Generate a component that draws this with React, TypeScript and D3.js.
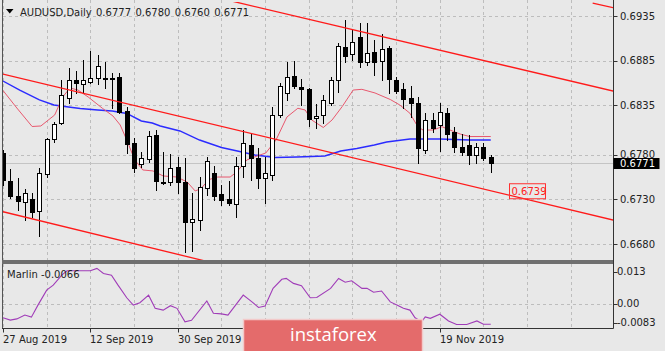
import React from 'react';
import * as d3 from 'd3';

// AUDUSD daily candles, bar 0 = 27 Aug 2019, bar 67 = 28 Nov 2019
const opens = [
  0.67818, 0.67508, 0.67337, 0.67273, 0.67303, 0.67172, 0.6758, 0.67974, 0.6815, 0.68433,
  0.68629, 0.68595, 0.68615, 0.68662, 0.68655, 0.68662, 0.68671, 0.68282, 0.67926, 0.67691,
  0.67751, 0.68019, 0.67496, 0.6749, 0.67665, 0.6749, 0.6705, 0.67063, 0.67426, 0.67591,
  0.67356, 0.67303, 0.67247, 0.67672, 0.67907, 0.67759, 0.67535, 0.67572, 0.68243, 0.68492,
  0.68679, 0.68559, 0.68534, 0.68206, 0.68248, 0.68377, 0.68638, 0.69007, 0.68925, 0.69119,
  0.68839, 0.68944, 0.6885, 0.68989, 0.68634, 0.6853, 0.6843, 0.68374, 0.67851, 0.68187,
  0.68131, 0.68262, 0.68056, 0.67882, 0.67907, 0.67795, 0.67888, 0.6777,
];
const highs = [
  0.67851, 0.67636, 0.67542, 0.67415, 0.67367, 0.67647, 0.67982, 0.68161, 0.68634, 0.68765,
  0.68735, 0.68858, 0.68959, 0.68919, 0.68836, 0.68709, 0.68709, 0.68329, 0.67982, 0.67832,
  0.68064, 0.68075, 0.67826, 0.67803, 0.67776, 0.67767, 0.67367, 0.67553, 0.67773, 0.67676,
  0.6746, 0.67505, 0.6777, 0.68075, 0.6803, 0.67879, 0.67776, 0.68336, 0.68601, 0.68836,
  0.68847, 0.6864, 0.68541, 0.68366, 0.68466, 0.68671, 0.69051, 0.69305, 0.69199, 0.69268,
  0.69277, 0.69082, 0.69145, 0.6901, 0.68671, 0.68597, 0.68567, 0.68441, 0.68262, 0.68262,
  0.68374, 0.68318, 0.68112, 0.6803, 0.68019, 0.67926, 0.67926, 0.678,
];
const lows = [
  0.6746, 0.67311, 0.6718, 0.67069, 0.67105, 0.66893, 0.67553, 0.67937, 0.68139, 0.6838,
  0.68492, 0.685, 0.68597, 0.6859, 0.68541, 0.68318, 0.68265, 0.67814, 0.67609, 0.67665,
  0.6772, 0.67404, 0.67468, 0.6746, 0.67367, 0.66716, 0.66722, 0.66957, 0.67348, 0.67292,
  0.67236, 0.67236, 0.67105, 0.67553, 0.67516, 0.67426, 0.67255, 0.67516, 0.6822, 0.68411,
  0.68541, 0.68355, 0.6812, 0.68097, 0.6815, 0.68355, 0.68503, 0.6883, 0.68858, 0.6878,
  0.68802, 0.6869, 0.68629, 0.68489, 0.68486, 0.68318, 0.68215, 0.67706, 0.67821, 0.68056,
  0.67844, 0.67963, 0.67832, 0.67795, 0.67695, 0.67703, 0.6774, 0.676,
];
const closes = [
  0.67516, 0.67337, 0.67284, 0.67367, 0.67161, 0.67591, 0.67971, 0.68139, 0.68466, 0.68634,
  0.68606, 0.68634, 0.6866, 0.68794, 0.68651, 0.68658, 0.6828, 0.67913, 0.67647, 0.67759,
  0.68011, 0.67505, 0.67485, 0.67647, 0.6749, 0.67041, 0.6708, 0.67432, 0.67723, 0.67342,
  0.67292, 0.67255, 0.67672, 0.67935, 0.67759, 0.67533, 0.67591, 0.68243, 0.68562, 0.68671,
  0.68567, 0.68534, 0.68198, 0.68237, 0.68405, 0.68638, 0.6902, 0.68908, 0.69056, 0.68832,
  0.68936, 0.68839, 0.68978, 0.6864, 0.68515, 0.68418, 0.6838, 0.6787, 0.68187, 0.68094,
  0.6828, 0.6803, 0.67882, 0.67832, 0.67795, 0.67882, 0.67759, 0.6771,
];

// moving averages: [bar, price]
const fastMa: [number, number][] = [
  [0, 0.68517], [1.9, 0.68321], [4, 0.68114], [5.2, 0.6812], [7.1, 0.68243], [8.2, 0.68444],
  [9.2, 0.68545], [10.3, 0.68522], [11.7, 0.68444], [13.7, 0.68315], [15.1, 0.68232],
  [16.1, 0.68131], [17, 0.67963], [18.1, 0.6774], [19.2, 0.67628], [20.6, 0.67617],
  [22, 0.67561], [23.9, 0.67549], [25.3, 0.67493], [26.4, 0.67393], [27.2, 0.67421],
  [28.3, 0.67521], [29.5, 0.67549], [31.2, 0.67549], [32.1, 0.67605], [33.5, 0.6774],
  [34.9, 0.67784], [36.1, 0.67818], [37.5, 0.67963], [39, 0.6822], [40.5, 0.68318],
  [41.5, 0.68299], [42.4, 0.68187], [44, 0.68103], [45.2, 0.68187], [46.6, 0.68338],
  [48.1, 0.68522], [49.3, 0.6853], [51.1, 0.68489], [53.2, 0.68416], [54.5, 0.68355],
  [55.9, 0.68262], [57, 0.68109], [57.7, 0.68075], [59.1, 0.68075], [60.3, 0.68112],
  [61.4, 0.68075], [62.8, 0.6803], [64.1, 0.68002], [67, 0.68002],
];
const slowMa: [number, number][] = [
  [0, 0.68623], [2.3, 0.68522], [5, 0.68411], [7, 0.68355], [9, 0.68332], [10.6, 0.68315],
  [13, 0.68299], [15, 0.68288], [17, 0.6826], [19, 0.68176], [20.5, 0.68153], [21.6, 0.6812],
  [24.3, 0.68064], [27, 0.67963], [30, 0.67879], [32.5, 0.67835], [34.6, 0.67795],
  [37.4, 0.67767], [40.4, 0.67773], [44.2, 0.67784], [46.4, 0.6784], [48.6, 0.67868],
  [51, 0.67907], [52.7, 0.67941], [55.9, 0.67974], [60, 0.67974], [64.1, 0.67963], [67, 0.67963],
];

// Marlin oscillator: [bar, value]
const marlin: [number, number][] = [
  [0, -0.0048], [1, -0.0056], [1.9, -0.0052], [3, -0.0039], [3.9, -0.0046], [4.8, -0.0005],
  [6, 0.0046], [6.9, 0.0063], [8.1, 0.0098], [8.8, 0.0112], [9.7, 0.0112], [12, 0.0112],
  [12.9, 0.012], [13.8, 0.0103], [14.9, 0.0097], [15.8, 0.0063], [17, 0.002], [17.9, -0.0005],
  [18.8, 0.0003], [20, 0.0029], [20.9, -0.0016], [22, -0.0022], [23, -0.0007], [23.9, -0.0016],
  [25, -0.0062], [25.9, -0.0057], [28, 0.0009], [28.9, -0.0033], [30, -0.0035], [30.9, -0.0039],
  [33, 0.0029], [34.2, 0.0006], [35.1, -0.0013], [36, -0.0008], [37.1, 0.0052], [38.3, 0.0083],
  [38.9, 0.0086], [39.9, 0.0069], [41, 0.0061], [42.2, 0.002], [43.1, 0.0021], [45, 0.0052],
  [46.1, 0.0086], [47, 0.0073], [47.9, 0.0078], [49.3, 0.0052], [50, 0.0052], [50.9, 0.0039],
  [52, 0.0043], [53.2, 0.0006], [54.1, -0.0005], [55, -0.0016], [55.9, -0.0022], [56.6, -0.0048],
  [57.5, -0.0062], [58, -0.0045], [58.7, -0.005], [60, -0.0036], [61.2, -0.0059], [62.3, -0.0071],
  [63.7, -0.0071], [65.1, -0.0059], [66, -0.007], [67, -0.007],
];
const marlinLast = -0.0066;

// hand-drawn channel lines: [bar1, price1, bar2, price2]
const channelLines: [number, number, number, number][] = [
  [30, 0.69544, 84, 0.68507],
  [0, 0.68701, 84, 0.67064],
  [81, 0.69495, 84, 0.6944],
  [0, 0.67161, 40, 0.66367],
];
const channelLabel = 0.6739;

const priceTicks = [0.6935, 0.6885, 0.6835, 0.678, 0.673, 0.668];
const priceTickLabels = ['0.6935', '0.6885', '0.6835', '0.6780', '0.6730', '0.6680'];
const marlinTicks = [0.013, 0, -0.0083];
const marlinTickLabels = ['0.013', '0.00', '-0.0083'];
// dates visible on the time axis (the others sit under the watermark)
const dateBars = [0, 12, 24, 60];
const dateLabels = ['27 Aug 2019', '12 Sep 2019', '30 Sep 2019', '19 Nov 2019'];

const W = 665;
const H = 351;
const AX = 613.5; // price axis
const MAIN_BOTTOM = 260;
const IND_TOP = 264;
const IND_BOTTOM = 328.5;
const BG = '#e8e8e8';
const GRID = '#bdbdbd';
const FONT = '"DejaVu Sans", sans-serif';

const x = d3.scaleLinear().domain([0, 84]).range([3, 3 + 84 * 7.28]);
const y = d3.scaleLinear().domain([0.668, 0.6935]).range([244, 16]);
const yInd = d3.scaleLinear().domain([-0.0083, 0.013]).range([328, 265.5]);

const priceLine = d3.line<[number, number]>().x(d => x(d[0])).y(d => y(d[1]));
const indLine = d3.line<[number, number]>().x(d => x(d[0])).y(d => yInd(d[1]));

const gridBars = d3.range(0, 85, 6).filter(i => x(i) < AX - 1);
const last = opens.length - 1;

export default function App() {
  const lastClose = closes[last];
  const header = [opens[last], highs[last], lows[last], closes[last]].map(v => v.toFixed(4));
  const labelY = y(channelLabel);

  return (
    <svg width={W} height={H} style={{ position: 'absolute', left: 0, top: 0, display: 'block' }}>
      <defs>
        <clipPath id="mainClip">
          <rect x={3} y={2} width={AX - 3} height={MAIN_BOTTOM - 2} />
        </clipPath>
        <clipPath id="indClip">
          <rect x={3} y={IND_TOP} width={AX - 3} height={IND_BOTTOM - IND_TOP} />
        </clipPath>
      </defs>
      <rect width={W} height={H} fill={BG} />

      {/* grid */}
      {gridBars.map(i => {
        const gx = Math.round(x(i)) + 0.5;
        return (
          <g key={'vg' + i} stroke={GRID} strokeDasharray="3,3">
            <line x1={gx} x2={gx} y1={0} y2={MAIN_BOTTOM} />
            <line x1={gx} x2={gx} y1={IND_TOP} y2={IND_BOTTOM} />
          </g>
        );
      })}
      {priceTicks.map(p => (
        <line key={'hg' + p} x1={3} x2={AX} y1={Math.round(y(p)) + 0.5} y2={Math.round(y(p)) + 0.5}
          stroke={GRID} strokeDasharray="3,3" />
      ))}
      <line x1={3} x2={AX} y1={Math.round(yInd(0)) + 0.5} y2={Math.round(yInd(0)) + 0.5}
        stroke={GRID} strokeDasharray="3,3" />

      {/* current price line */}
      <line x1={3} x2={AX} y1={Math.round(y(lastClose)) + 0.5} y2={Math.round(y(lastClose)) + 0.5} stroke="#c4c4c4" />

      <g clipPath="url(#mainClip)">
        {/* moving averages */}
        <path d={priceLine(slowMa) || ''} fill="none" stroke="#2b2bff" strokeWidth={1.4} />
        <path d={priceLine(fastMa) || ''} fill="none" stroke="#e8586e" strokeWidth={1} />

        {/* candles */}
        {opens.map((o, i) => {
          const c = closes[i];
          const cx = Math.round(x(i));
          const top = Math.round(y(Math.max(o, c)));
          const bot = Math.round(y(Math.min(o, c)));
          const up = c > o;
          return (
            <g key={'c' + i}>
              <line x1={cx + 0.5} x2={cx + 0.5} y1={Math.round(y(highs[i]))} y2={Math.round(y(lows[i])) + 1} stroke="#000" />
              <rect x={cx - 1.5} y={top + 0.5} width={4} height={Math.max(1, bot - top)}
                fill={up ? '#fff' : '#000'} stroke="#000" />
            </g>
          );
        })}

        {/* channel lines */}
        {channelLines.map((l, k) => (
          <line key={'ch' + k} x1={x(l[0])} y1={y(l[1])} x2={x(l[2])} y2={y(l[3])}
            stroke="#ff1a1a" strokeWidth={1.3} />
        ))}
      </g>

      {/* channel value label */}
      <rect x={509.5} y={labelY - 7.5} width={36} height={15} fill="none" stroke="#ff3030" />
      <text x={511.5} y={labelY + 4} fontFamily={FONT} fontSize={10} fill="#ff2020">{channelLabel.toFixed(4)}</text>

      {/* marlin */}
      <g clipPath="url(#indClip)">
        <path d={indLine(marlin) || ''} fill="none" stroke="#a03cb8" strokeWidth={1.1} />
      </g>
      <text x={7} y={277.5} fontFamily={FONT} fontSize={10} fill="#222">{'Marlin ' + marlinLast.toFixed(4)}</text>

      {/* frames */}
      <line x1={2.5} x2={2.5} y1={0} y2={IND_BOTTOM} stroke="#555" />
      <rect x={2} y={MAIN_BOTTOM} width={AX - 2} height={4} fill="#6f6f6f" />
      <line x1={2} x2={AX} y1={IND_BOTTOM} y2={IND_BOTTOM} stroke="#333" />
      <line x1={AX} x2={AX} y1={0} y2={IND_BOTTOM} stroke="#333" />

      {/* price axis */}
      {priceTicks.map((p, k) => (
        <g key={'pt' + p}>
          <line x1={AX} x2={AX + 4} y1={Math.round(y(p)) + 0.5} y2={Math.round(y(p)) + 0.5} stroke="#333" />
          <text x={620} y={y(p) + 3.7} fontFamily={FONT} fontSize={10} fill="#222">{priceTickLabels[k]}</text>
        </g>
      ))}
      <rect x={AX} y={Math.round(y(lastClose)) - 5} width={46} height={11} fill="#000" />
      <text x={620} y={y(lastClose) + 3.9} fontFamily={FONT} fontSize={10} fill="#fff">{lastClose.toFixed(4)}</text>

      {marlinTicks.map((v, k) => {
        const ty = Math.min(Math.max(yInd(v), 271.7), 322.7);
        return (
          <g key={'mt' + k}>
            <line x1={AX} x2={AX + 4} y1={Math.round(ty) + 0.5} y2={Math.round(ty) + 0.5} stroke="#333" />
            <text x={617} y={ty + 3.7} fontFamily={FONT} fontSize={10} fill="#222">{marlinTickLabels[k]}</text>
          </g>
        );
      })}

      {/* time axis */}
      {dateBars.map((b, k) => {
        const tx = Math.round(x(b)) + 0.5;
        return (
          <g key={'d' + b}>
            <line x1={tx} x2={tx} y1={IND_BOTTOM} y2={IND_BOTTOM + 4} stroke="#333" />
            <text x={tx - 0.5} y={343} fontFamily={FONT} fontSize={10} fill="#222">{dateLabels[k]}</text>
          </g>
        );
      })}

      {/* header */}
      <path d="M6,9 L13.5,9 L9.75,13.5 Z" fill="#000" />
      <text x={20} y={16} fontFamily={FONT} fontSize={10} fill="#222">
        AUDUSD,Daily
        {header.map((h, k) => (
          <tspan key={k} x={96 + k * 39.4}>{h}</tspan>
        ))}
      </text>

      {/* watermark banner */}
      <rect x={243.5} y={319.5} width={179} height={33} fill="#e46b6b" stroke="#f2c9c9" strokeWidth={1.5} />
      <text x={290} y={341} fontFamily='"Open Sans", sans-serif' fontSize={18.5} fill="#fff">instaforex</text>
    </svg>
  );
}
